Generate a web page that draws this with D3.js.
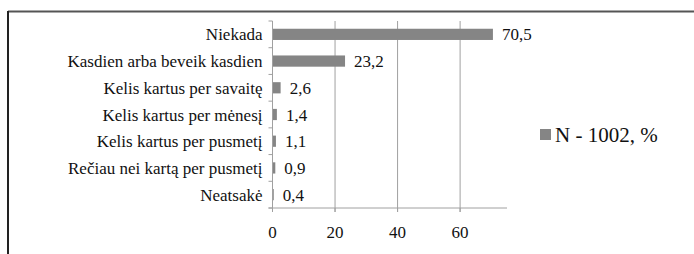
<!DOCTYPE html>
<html><head><meta charset="utf-8">
<script src="https://cdn.jsdelivr.net/npm/d3@7"></script>
<style>body{margin:0;background:#fff}svg{display:block}
text{font-family:"Liberation Serif" !important}</style>
</head><body>
<script>
const categories = ["Niekada","Kasdien arba beveik kasdien","Kelis kartus per savaitę","Kelis kartus per mėnesį","Kelis kartus per pusmetį","Rečiau nei kartą per pusmetį","Neatsakė"];
const values = [70.5, 23.2, 2.6, 1.4, 1.1, 0.9, 0.4];
const valueLabels = ["70,5","23,2","2,6","1,4","1,1","0,9","0,4"];
const xTicks = [0, 20, 40, 60];
const seriesName = "N - 1002, %";

const W = 694, H = 254;
const FONT = "Liberation Serif";
const svg = d3.select("body").append("svg").attr("width", W).attr("height", H)
  .style("font-family", FONT, "important");

// frame
svg.append("line").attr("x1", 8).attr("x2", W).attr("y1", 11.5).attr("y2", 11.5).attr("stroke", "#555").attr("stroke-width", 2);
svg.append("line").attr("x1", 8).attr("x2", 8).attr("y1", 11).attr("y2", H).attr("stroke", "#222").attr("stroke-width", 2);

const x = d3.scaleLinear().domain([0, 75]).range([272.5, 507]);
const y = d3.scaleBand().domain(categories).range([21, 208]).paddingInner(0.58).paddingOuter(0.29);
const yb = d3.scaleBand().domain(categories).range([21, 208]);

// gridlines
svg.append("g").selectAll("line").data(xTicks.filter(d => d > 0)).join("line")
  .attr("x1", d => x(d)).attr("x2", d => x(d)).attr("y1", 21).attr("y2", 212)
  .attr("stroke", "#a0a0a0").attr("stroke-width", 1);

// bars
svg.append("g").selectAll("rect").data(values).join("rect")
  .attr("x", x(0)).attr("y", (d, i) => y(categories[i]))
  .attr("width", d => x(d) - x(0)).attr("height", y.bandwidth())
  .attr("fill", "#858585");

// y axis
const ya = svg.append("g").attr("transform", `translate(${x(0)},0)`);
ya.append("line").attr("x1", 0).attr("x2", 0).attr("y1", 21).attr("y2", 212).attr("stroke", "#a0a0a0");
ya.selectAll("line.t").data(categories.concat(["_end"])).join("line").attr("class", "t")
  .attr("x1", -4).attr("x2", 0)
  .attr("y1", (d, i) => i < categories.length ? yb(d) : 208)
  .attr("y2", (d, i) => i < categories.length ? yb(d) : 208)
  .attr("stroke", "#a0a0a0");
ya.selectAll("text").data(categories).join("text")
  .attr("x", -10).attr("y", d => yb(d) + yb.bandwidth() / 2 + 6)
  .attr("text-anchor", "end").style("font-family", FONT, "important").attr("font-size", 17).attr("fill", "#111")
  .text(d => d);

// x axis
const xa = svg.append("g").attr("transform", `translate(0,208)`);
xa.append("line").attr("x1", x(0) - 4).attr("x2", 507).attr("y1", 0).attr("y2", 0).attr("stroke", "#a0a0a0");
xa.selectAll("line.t").data(xTicks).join("line").attr("class", "t")
  .attr("x1", d => x(d)).attr("x2", d => x(d)).attr("y1", 0).attr("y2", 4).attr("stroke", "#a0a0a0");
xa.selectAll("text").data(xTicks).join("text")
  .attr("x", d => x(d)).attr("y", 30).attr("text-anchor", "middle")
  .style("font-family", FONT, "important").attr("font-size", 17).attr("fill", "#111").text(d => d);

// value labels
svg.append("g").selectAll("text").data(values).join("text")
  .attr("x", d => x(d) + 9).attr("y", (d, i) => yb(categories[i]) + yb.bandwidth() / 2 + 6)
  .style("font-family", FONT, "important").attr("font-size", 17).attr("fill", "#111")
  .text((d, i) => valueLabels[i]);

// legend
svg.append("rect").attr("x", 540).attr("y", 129).attr("width", 11).attr("height", 11).attr("fill", "#858585");
svg.append("text").attr("x", 555).attr("y", 142).style("font-family", FONT, "important").attr("font-size", 21).attr("fill", "#111").text(seriesName);
</script>
</body></html>
